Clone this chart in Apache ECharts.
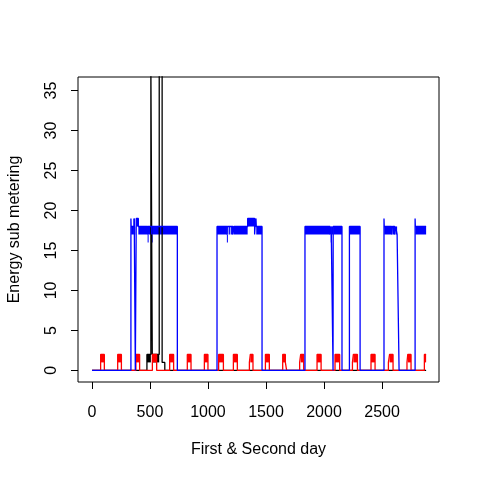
<!DOCTYPE html>
<html lang="en">
<head>
    <meta charset="utf-8">
    <title>Energy sub metering</title>
    <script src="https://cdn.jsdelivr.net/npm/echarts@6/dist/echarts.min.js"></script>
    <style>
        html, body {margin: 0; padding: 0; background: #ffffff;}
        #chart {width: 480px; height: 480px;}
    </style>
</head>
<body>
<div id="chart"></div>
<script>
    // minute index of the two days
    var firstMinute = 1;
    var lastMinute = 2880;

    // tick labels
    var xTicks = [0, 500, 1000, 1500, 2000, 2500];
    var yTicks = [0, 5, 10, 15, 20, 25, 30, 35];

    // runs: [from minute, to minute, low value, high value]
    // low < high means the reading flickers between the two values over that run
    // minutes not covered by a run are 0
    var subMetering1 = [
        [474, 508, 1, 2],
        [508, 520, 38, 38],
        [520, 580, 1, 2],
        [580, 605, 38, 38],
        [605, 628, 1, 1]
    ];

    var subMetering2 = [
        [75, 107, 1, 2],
        [222, 254, 1, 2],
        [379, 411, 1, 2],
        [521, 558, 1, 2],
        [670, 704, 1, 2],
        [822, 854, 1, 2],
        [969, 1000, 1, 2],
        [1092, 1133, 1, 2],
        [1219, 1253, 1, 2],
        [1357, 1365, 1, 1],
        [1365, 1388, 1, 2],
        [1495, 1529, 1, 2],
        [1644, 1667, 1, 2],
        [1667, 1678, 1, 1],
        [1790, 1799, 1, 1],
        [1799, 1825, 1, 2],
        [1940, 1975, 1, 2],
        [2095, 2135, 1, 2],
        [2245, 2253, 1, 1],
        [2253, 2288, 1, 2],
        [2405, 2440, 1, 2],
        [2555, 2565, 1, 1],
        [2565, 2595, 1, 2],
        [2715, 2722, 1, 1],
        [2722, 2750, 1, 2],
        [2865, 2880, 1, 2]
    ];

    var subMetering3 = [
        [336, 338, 19, 19],
        [338, 362, 17, 18],
        [362, 365, 18, 19],
        [365, 374, 17, 18],
        [382, 400, 18, 19],
        [400, 480, 17, 18],
        [480, 483, 16, 17],
        [483, 515, 17, 18],
        [515, 517, 16, 17],
        [517, 736, 17, 18],
        [1078, 1163, 17, 18],
        [1163, 1166, 16, 17],
        [1166, 1176, 17, 18],
        [1176, 1182, 18, 18],
        [1182, 1193, 17, 18],
        [1193, 1199, 18, 18],
        [1199, 1216, 17, 18],
        [1216, 1224, 17, 17],
        [1224, 1342, 17, 18],
        [1342, 1402, 18, 19],
        [1402, 1410, 17, 17],
        [1410, 1416, 18, 19],
        [1416, 1466, 17, 18],
        [1836, 2052, 17, 18],
        [2052, 2058, 17, 17],
        [2058, 2062, 16, 17],
        [2062, 2078, 17, 18],
        [2079, 2155, 17, 18],
        [2219, 2311, 17, 18],
        [2517, 2519, 19, 19],
        [2519, 2583, 17, 18],
        [2583, 2590, 17, 17],
        [2590, 2609, 17, 18],
        [2609, 2617, 17, 17],
        [2617, 2630, 17, 18],
        [2630, 2647, 17, 17],
        [2785, 2787, 19, 19],
        [2787, 2880, 17, 18]
    ];

    var font = "'Liberation Sans', Arial, sans-serif";

    // line through the runs, 0 in between
    function runLine(runs) {
        var pts = [];
        var t = firstMinute;
        runs.forEach(function (r) {
            if (r[0] > t) {
                pts.push([t, 0], [r[0], 0]);
            }
            pts.push([r[0], r[3]], [r[1], r[3]]);
            t = r[1];
        });
        if (t < lastMinute) {
            pts.push([t, 0], [lastMinute, 0]);
        }
        return pts;
    }

    function flicker(runs) {
        return runs.filter(function (r) { return r[3] > r[2]; });
    }

    function lineSeries(runs, color) {
        return {
            type: 'line',
            data: runLine(runs),
            showSymbol: false,
            lineStyle: {color: color, width: 1.3},
            clip: true
        };
    }

    function bandSeries(runs, color) {
        return {
            type: 'custom',
            data: flicker(runs),
            encode: {x: [0, 1], y: [2, 3]},
            clip: true,
            renderItem: function (params, api) {
                var a = api.coord([api.value(0), api.value(3)]);
                var b = api.coord([api.value(1), api.value(2)]);
                return {
                    type: 'rect',
                    shape: {x: a[0], y: a[1], width: Math.max(b[0] - a[0], 1), height: b[1] - a[1]},
                    style: {fill: color}
                };
            }
        };
    }

    function plain(v) {
        return String(v);
    }

    var chart = echarts.init(document.getElementById('chart'));
    chart.setOption({
        animation: false,
        backgroundColor: '#ffffff',
        grid: {
            left: 78, right: 41, top: 77, bottom: 98,
            outerBoundsMode: 'none',
            containLabel: false,
            show: true, borderColor: '#000000', borderWidth: 1
        },
        xAxis: {
            type: 'value',
            min: -120,
            max: 2991,
            name: 'First & Second day',
            nameLocation: 'middle',
            nameGap: 60,
            nameTextStyle: {color: '#000000', fontSize: 16, fontFamily: font},
            axisLine: {show: false, onZero: false},
            axisTick: {show: true, length: 7, customValues: xTicks, lineStyle: {color: '#000000'}},
            axisLabel: {customValues: xTicks, formatter: plain, color: '#000000', fontSize: 16, fontFamily: font, margin: 23},
            splitLine: {show: false}
        },
        yAxis: {
            type: 'value',
            min: -1.45,
            max: 36.7,
            name: 'Energy sub metering',
            nameLocation: 'middle',
            nameGap: 55,
            nameTextStyle: {color: '#000000', fontSize: 16, fontFamily: font},
            axisLine: {show: false, onZero: false},
            axisTick: {show: true, length: 7, customValues: yTicks, lineStyle: {color: '#000000'}},
            axisLabel: {customValues: yTicks, formatter: plain, rotate: 90, color: '#000000', fontSize: 16, fontFamily: font, margin: 18},
            splitLine: {show: false}
        },
        series: [
            lineSeries(subMetering1, '#000000'),
            bandSeries(subMetering1, '#000000'),
            lineSeries(subMetering2, '#ff0000'),
            bandSeries(subMetering2, '#ff0000'),
            lineSeries(subMetering3, '#0000ff'),
            bandSeries(subMetering3, '#0000ff')
        ]
    });
</script>
</body>
</html>
